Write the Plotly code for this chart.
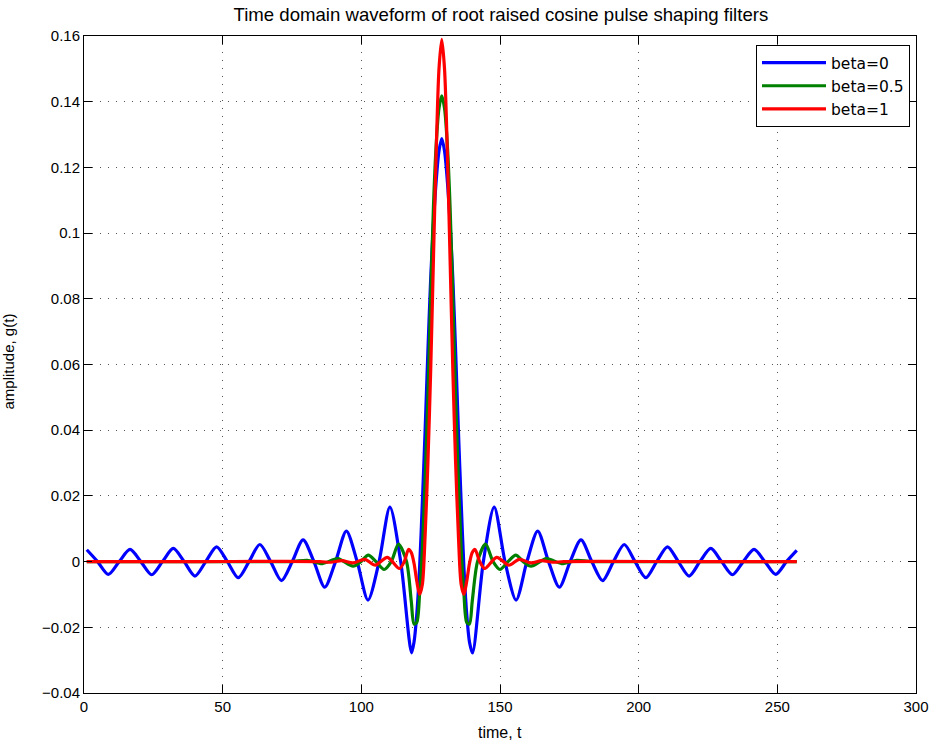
import plotly.graph_objects as go

# ---------------- data ----------------
t_beta0 = [1, 4.9, 8.8, 12.7, 16.6, 20.5, 24.4, 28.3, 32.2, 36.1, 40.0, 43.9, 47.8, 51.7,
           55.6, 59.5, 63.4, 67.3, 71.2, 75.1, 79.0, 82.9, 86.8, 90.7, 94.6, 98.5, 102.4,
           106.4, 110.3, 114.2, 118.1, 119, 120, 121, 122, 123, 124, 125, 126, 127, 128, 129,
           130, 131, 132, 133, 134, 135, 136, 137, 138, 139, 140.1, 144.0, 147.9, 151.8,
           155.8, 159.7, 163.6, 167.5, 171.4, 175.3, 179.2, 183.1, 187.0, 190.9, 194.8, 198.7,
           202.6, 206.5, 210.4, 214.3, 218.2, 222.1, 226.0, 229.9, 233.8, 237.7, 241.6, 245.5,
           249.4, 253.3, 257]
g_beta0 = [0.0036, 0, -0.0039, 0, 0.0037, 0, -0.0040, 0, 0.0040, 0, -0.0044, 0, 0.0045, 0,
           -0.0049, 0, 0.0052, 0, -0.0058, 0, 0.0066, 0, -0.0078, 0, 0.0093, 0, -0.0117,
           0, 0.0166, 0, -0.0278, -0.0245, -0.0160, -0.0020, 0.0180, 0.0400, 0.0640, 0.0860,
           0.1030, 0.1160, 0.1250, 0.1288,
           0.1250, 0.1160, 0.1030, 0.0860, 0.0640, 0.0400, 0.0180, -0.0020, -0.0160, -0.0245,
           -0.0278, 0, 0.0166, 0, -0.0117, 0, 0.0093, 0, -0.0078, 0, 0.0066, 0, -0.0058, 0,
           0.0052, 0, -0.0049, 0, 0.0045, 0, -0.0044, 0, 0.0040, 0, -0.0040, 0, 0.0037, 0,
           -0.0039, 0, 0.0034]

t_beta05 = [1, 30, 60, 75, 80.5, 86, 91.5, 97, 99.8, 102.5, 105.3, 108.2, 110.8, 113.4,
            116.3, 118, 119, 120, 121, 122, 123, 124, 125, 126, 127, 128, 129,
            130, 131, 132, 133, 134, 135, 136, 137, 138, 139, 140, 141.9, 144.8, 147.5,
            150.0, 152.9, 155.7, 158.4, 161.2, 166.7, 172.2, 177.7, 183, 200, 230, 257]
g_beta05 = [0, 0, 0, 0, 0.0004, -0.0006, 0.0009, -0.0014, 0, 0.0020, 0, -0.0024, 0, 0.0053,
            0, -0.0120, -0.0190, -0.0185, -0.0100, 0.0040, 0.0250, 0.0500, 0.0800, 0.1080,
            0.1270, 0.1380, 0.1418,
            0.1380, 0.1270, 0.1080, 0.0800, 0.0500, 0.0250, 0.0040, -0.0100, -0.0185, -0.0190,
            -0.0120, 0, 0.0053, 0, -0.0024, 0, 0.0020, 0, -0.0014, 0.0009, -0.0006, 0.0004,
            0, 0, 0, 0]

t_beta1 = [1, 40, 85, 89, 93, 97, 101.3, 105, 109.4, 113.7, 115.5, 117, 118, 119, 120, 121,
           122, 123, 124, 125, 126, 127, 128, 129, 130, 131, 132, 133, 134, 135, 136, 137,
           138, 139, 140, 141, 142.7, 144.5, 148.8, 153.2, 156.9, 161.2, 165, 169, 173, 220, 257]
g_beta1 = [0, 0, 0, -0.0002, 0.0003, -0.0004, 0.0007, -0.0011, 0.0013, -0.0021, 0, 0.0037,
           0.0028, -0.0005, -0.0060, -0.0100, -0.0070, 0.0080, 0.0300, 0.0580, 0.0920,
           0.1250, 0.1500, 0.1590, 0.1500, 0.1250, 0.0920, 0.0580, 0.0300, 0.0080, -0.0070,
           -0.0100, -0.0060, -0.0005, 0.0028, 0.0037, 0, -0.0021, 0.0013, -0.0011, 0.0007,
           -0.0004, 0.0003, -0.0002, 0, 0, 0]

series_names = ["beta=0", "beta=0.5", "beta=1"]
series_colors = ["#0000ff", "#008000", "#ff0000"]

x_tickvals = [0, 50, 100, 150, 200, 250, 300]
x_ticktext = ["0", "50", "100", "150", "200", "250", "300"]
y_tickvals = [-0.04, -0.02, 0, 0.02, 0.04, 0.06, 0.08, 0.1, 0.12, 0.14, 0.16]
y_ticktext = ["\u22120.04", "\u22120.02", "0", "0.02", "0.04", "0.06", "0.08", "0.1",
              "0.12", "0.14", "0.16"]

title_text = "Time domain waveform of root raised cosine pulse shaping filters"
x_label = "time, t"
y_label = "amplitude, g(t)"

# ---------------- figure ----------------
FONT = "Liberation Sans, Arial, sans-serif"
fig = go.Figure()
for xs, ys, name, col in zip([t_beta0, t_beta05, t_beta1],
                             [g_beta0, g_beta05, g_beta1],
                             series_names, series_colors):
    fig.add_trace(go.Scatter(x=xs, y=ys, mode="lines", name=name,
                             line=dict(color=col, width=3.2, shape="spline", smoothing=0.8)))

grid_style = dict(showgrid=True, gridcolor="#555555", griddash="1px,7px", gridwidth=1)
axis_common = dict(showline=True, linecolor="black", linewidth=1, mirror="ticks",
                   ticks="inside", ticklen=8, tickcolor="black", zeroline=False,
                   automargin=False,
                   tickfont=dict(family=FONT, size=15, color="black"))

fig.update_layout(
    width=938, height=745,
    margin=dict(l=84, r=22, t=36, b=52),
    paper_bgcolor="white", plot_bgcolor="white",
    title=dict(text=title_text, x=0.534, xref="container", xanchor="center",
               y=1 - 14 / 745, yref="container", yanchor="middle",
               font=dict(family=FONT, size=18.6, color="black")),
    xaxis=dict(range=[0, 300], tickvals=x_tickvals, ticktext=x_ticktext,
               **grid_style, **axis_common),
    yaxis=dict(range=[-0.04, 0.16], tickvals=y_tickvals, ticktext=y_ticktext,
               **grid_style, **axis_common),
    legend=dict(x=(756 - 84) / 832, y=1 - (45 - 36) / 657, xanchor="left", yanchor="top",
                bgcolor="white", bordercolor="black", borderwidth=1,
                font=dict(family="DejaVu Sans, sans-serif", size=15.5, color="black"),
                itemwidth=64, tracegroupgap=0),
    showlegend=True,
)

fig.add_annotation(text=x_label, xref="paper", yref="paper",
                   x=(500 - 84) / 832, y=-(732 - 693) / 657, xanchor="center",
                   yanchor="middle", showarrow=False,
                   font=dict(family=FONT, size=16, color="black"))

fig.add_annotation(text=y_label, textangle=-90, xref="paper", yref="paper",
                   x=(18 - 84) / 832, y=1 - (362 - 36) / 657, xanchor="right",
                   yanchor="middle", showarrow=False,
                   font=dict(family=FONT, size=15, color="black"))

fig.write_html("out.html", config={"displayModeBar": False},
               post_script="document.body.style.margin='0';")
